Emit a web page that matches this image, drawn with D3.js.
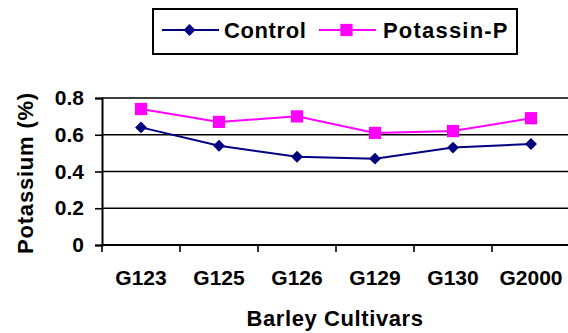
<!DOCTYPE html>
<html>
<head>
<meta charset="utf-8">
<script src="https://cdn.jsdelivr.net/npm/d3@7"></script>
<style>
  html, body { margin: 0; padding: 0; background: #fff; }
  svg { display: block; font-family: "Liberation Sans", Arial, sans-serif; font-weight: bold; }
</style>
</head>
<body>
<svg id="chart" width="568" height="333"></svg>
<script>
// Potassium content (%) of barley cultivars
const cultivars = ["G123", "G125", "G126", "G129", "G130", "G2000"];
const controlValues = [0.64, 0.54, 0.48, 0.47, 0.53, 0.55];
const potassinValues = [0.74, 0.67, 0.70, 0.61, 0.62, 0.69];
const yTicks = [0, 0.2, 0.4, 0.6, 0.8];
const seriesNames = ["Control", "Potassin-P"];

const svg = d3.select("#chart");

const plot = { left: 102, right: 570, top: 98, bottom: 245 };

const x = d3.scaleBand().domain(cultivars).range([plot.left, plot.right]).padding(0);
const y = d3.scaleLinear().domain([0, 0.8]).range([plot.bottom, plot.top]);

// horizontal gridlines
svg.append("g")
  .selectAll("line")
  .data(yTicks.filter(d => d > 0))
  .join("line")
  .attr("x1", plot.left).attr("x2", 568)
  .attr("y1", d => y(d)).attr("y2", d => y(d))
  .attr("stroke", "#000").attr("stroke-width", 1.6);

// y axis
const yAxis = svg.append("g")
  .attr("transform", `translate(${plot.left},0)`)
  .call(d3.axisLeft(y).tickValues(yTicks).tickSize(7).tickPadding(11)
    .tickFormat(d => d === 0 ? "0" : d3.format(".1f")(d)));
yAxis.select(".domain").attr("stroke", "#000").attr("stroke-width", 2);
yAxis.selectAll(".tick line").attr("stroke", "#000").attr("stroke-width", 1.6);
yAxis.selectAll(".tick text")
  .attr("font-family", "Liberation Sans, Arial, sans-serif")
  .attr("font-weight", "bold").attr("font-size", 21).attr("fill", "#000");

// x axis: ticks between categories
const xAxisG = svg.append("g");
xAxisG.append("line")
  .attr("x1", plot.left).attr("x2", 568)
  .attr("y1", plot.bottom).attr("y2", plot.bottom)
  .attr("stroke", "#000").attr("stroke-width", 2);
const boundaries = cultivars.map(c => x(c)).concat([x(cultivars[cultivars.length - 1]) + x.bandwidth()]);
xAxisG.selectAll("line.tk")
  .data(boundaries)
  .join("line").attr("class", "tk")
  .attr("x1", d => d).attr("x2", d => d)
  .attr("y1", plot.bottom).attr("y2", plot.bottom + 7)
  .attr("stroke", "#000").attr("stroke-width", 1.6);
xAxisG.selectAll("text")
  .data(cultivars)
  .join("text")
  .attr("x", d => x(d) + x.bandwidth() / 2)
  .attr("y", 285)
  .attr("text-anchor", "middle")
  .attr("font-size", 21)
  .text(d => d);

// axis titles
svg.append("text")
  .attr("x", 335).attr("y", 326)
  .attr("text-anchor", "middle")
  .attr("font-size", 22)
  .attr("letter-spacing", 0.6)
  .text("Barley Cultivars");

svg.append("text")
  .attr("transform", "translate(33,173) rotate(-90)")
  .attr("text-anchor", "middle")
  .attr("font-size", 22)
  .attr("letter-spacing", 0.8)
  .text("Potassium (%)");

// series lines and markers
const line = d3.line()
  .x((d, i) => x(cultivars[i]) + x.bandwidth() / 2)
  .y(d => y(d));

svg.append("path")
  .datum(controlValues)
  .attr("d", line)
  .attr("fill", "none").attr("stroke", "#000080").attr("stroke-width", 2);
svg.append("path")
  .datum(potassinValues)
  .attr("d", line)
  .attr("fill", "none").attr("stroke", "#FF00FF").attr("stroke-width", 2);

const diamond = d3.symbol().type(d3.symbolDiamond2).size(90);
const square = d3.symbol().type(d3.symbolSquare).size(150);

svg.append("g").selectAll("path")
  .data(controlValues)
  .join("path")
  .attr("transform", (d, i) => `translate(${x(cultivars[i]) + x.bandwidth() / 2},${y(d)})`)
  .attr("d", diamond)
  .attr("fill", "#000080");

svg.append("g").selectAll("path")
  .data(potassinValues)
  .join("path")
  .attr("transform", (d, i) => `translate(${x(cultivars[i]) + x.bandwidth() / 2},${y(d)})`)
  .attr("d", square)
  .attr("fill", "#FF00FF");

// legend
const legend = svg.append("g");
legend.append("rect")
  .attr("x", 153).attr("y", 9).attr("width", 364).attr("height", 45)
  .attr("fill", "#fff").attr("stroke", "#000").attr("stroke-width", 2);

const legendItems = [
  { name: seriesNames[0], color: "#000080", sym: diamond, x0: 162, tx: 224, ls: 0.6 },
  { name: seriesNames[1], color: "#FF00FF", sym: square, x0: 319, tx: 383, ls: 1.2 }
];
legendItems.forEach(it => {
  legend.append("line")
    .attr("x1", it.x0).attr("x2", it.x0 + 57)
    .attr("y1", 30).attr("y2", 30)
    .attr("stroke", it.color).attr("stroke-width", 2);
  legend.append("path")
    .attr("transform", `translate(${it.x0 + 27.5},30)`)
    .attr("d", it.sym)
    .attr("fill", it.color);
  legend.append("text")
    .attr("x", it.tx).attr("y", 38)
    .attr("font-size", 22)
    .attr("letter-spacing", it.ls)
    .text(it.name);
});
</script>
</body>
</html>
